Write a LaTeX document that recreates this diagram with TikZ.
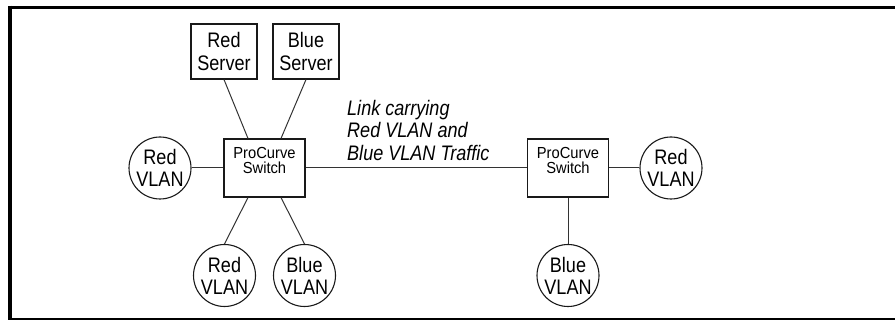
\documentclass[tikz,border=0pt]{standalone}
\usepackage{fontspec}
\setmainfont[FakeStretch=0.86]{Liberation Sans}
\newfontfamily\switchfont[FakeStretch=0.92]{Liberation Sans}
\begin{document}
\begin{tikzpicture}[x=1pt,y=-1pt,
  box/.style={draw=black!90,line width=1.1pt,minimum width=66pt,minimum height=55pt,inner sep=0pt,align=center,font=\fontsize{21}{22.5}\selectfont},
  vlan/.style={draw=black!90,line width=1.1pt,circle,minimum size=62pt,inner sep=0pt,align=center,font=\fontsize{21}{22}\selectfont},
  switchbox/.style={draw=black!90,line width=1.1pt,minimum width=81pt,minimum height=58pt,inner sep=0pt},
  swtext/.style={align=center,inner sep=0pt,font=\switchfont\fontsize{16}{15}\selectfont},
  link/.style={draw=black!80,line width=1pt}]
\useasboundingbox (0,0) rectangle (895,320);
% frame
\draw[line width=3.5pt] (8,7.5) -- (895,7.5);
\draw[line width=4pt] (10,5.75) -- (10,320);
\draw[line width=1.5pt] (8,319) -- (895,319);
% nodes
\node[box] (rs) at (224,51.5) {Red\\Server};
\node[box] (bs) at (306,51.5) {Blue\\Server};
\node[switchbox] (sw1) at (264.5,168) {};
\node[swtext] (sw1t) at ([yshift=8pt]sw1.center) {ProCurve\\Switch};
\node[vlan] (rv1) at (160,168) {Red\\VLAN};
\node[vlan] (rv2) at (224.5,275.5) {Red\\VLAN};
\node[vlan] (bv1) at (304.5,275.5) {Blue\\VLAN};
\node[switchbox] (sw2) at (568,168) {};
\node[swtext] (sw2t) at ([yshift=8pt]sw2.center) {ProCurve\\Switch};
\node[vlan] (rv3) at (671,168) {Red\\VLAN};
\node[vlan] (bv2) at (568,275.5) {Blue\\VLAN};
\node[anchor=north west,align=left,inner sep=0pt,font=\itshape\fontsize{21}{22.5}\selectfont] (lbl) at (347,100) {Link carrying\\Red VLAN and\\Blue VLAN Traffic};
% connectors
\draw[link] (rs.south) -- ([xshift=-16.5pt]sw1.north);
\draw[link] (bs.south) -- ([xshift=16.5pt]sw1.north);
\draw[link] ([xshift=-16.5pt]sw1.south) -- (rv2.north);
\draw[link] ([xshift=16.5pt]sw1.south) -- (bv1.north);
\draw[link] (rv1.east) -- (sw1.west);
\draw[link] (sw1.east) -- (sw2.west);
\draw[link] (sw2.east) -- (rv3.west);
\draw[link] (sw2.south) -- (bv2.north);
\end{tikzpicture}
\end{document}
